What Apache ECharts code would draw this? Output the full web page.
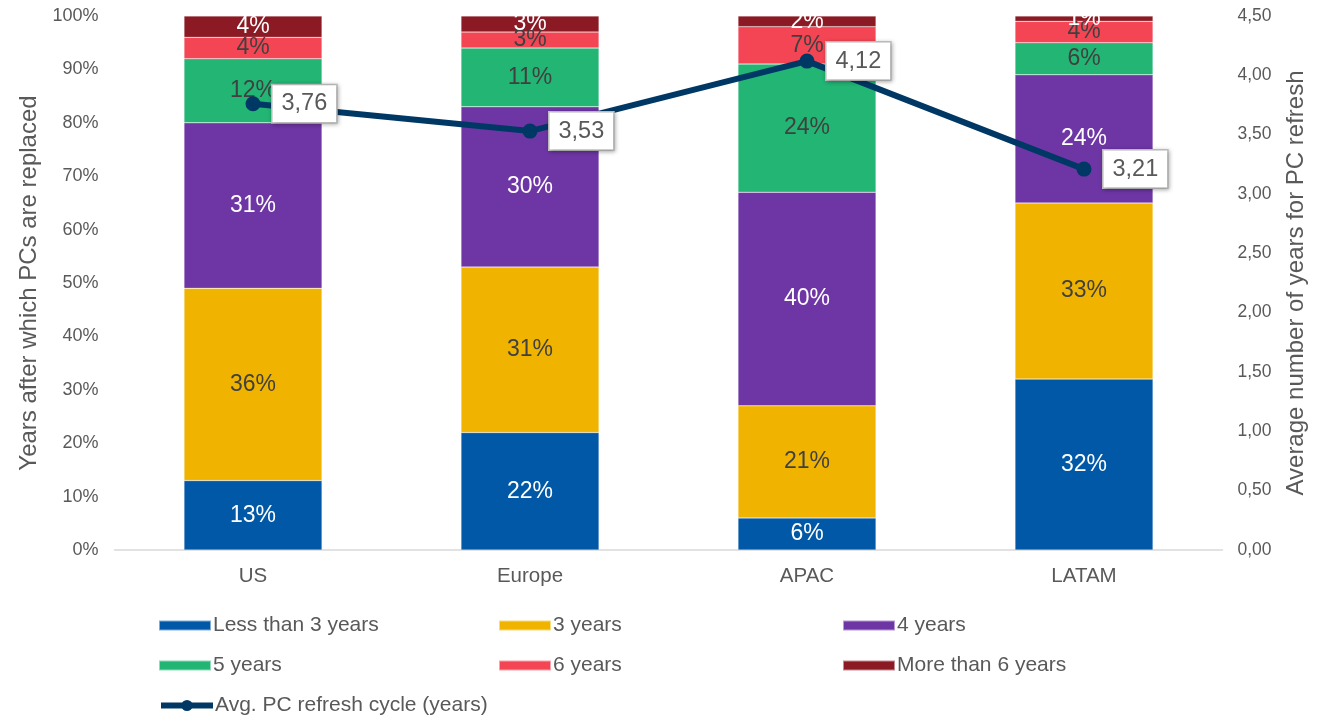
<!DOCTYPE html>
<html>
<head>
<meta charset="utf-8">
<script src="https://cdn.jsdelivr.net/npm/echarts@6/dist/echarts.min.js"></script>
<style>html,body{margin:0;padding:0;background:#fff}#c{width:1332px;height:716px}</style>
</head>
<body>
<div id="c"></div>
<script>
const categories = ['US', 'Europe', 'APAC', 'LATAM'];
const lessThan3 = [13, 22, 6, 32];
const years3 = [36, 31, 21, 33];
const years4 = [31, 30, 40, 24];
const years5 = [12, 11, 24, 6];
const years6 = [4, 3, 7, 4];
const moreThan6 = [4, 3, 2, 1];
const avgCycle = [3.76, 3.53, 4.12, 3.21];
const leftTicks = [0, 100, 10];
const rightTicks = [0, 4.5, 0.5];

const FONT = 'Liberation Sans, Arial, sans-serif';
const GRAY = '#595959';
const DARK = '#404040';

const stackDefs = [
  ['Less than 3 years', lessThan3, '#0058A7', '#ffffff'],
  ['3 years', years3, '#F0B400', DARK],
  ['4 years', years4, '#6E36A5', '#ffffff'],
  ['5 years', years5, '#22B574', DARK],
  ['6 years', years6, '#F44554', DARK],
  ['More than 6 years', moreThan6, '#8B1A24', '#ffffff']
];

const series = stackDefs.map(([name, data, color, lc]) => ({
  name, type: 'bar', stack: 'a', data, barWidth: 138,
  itemStyle: { color, borderColor: 'rgba(255,255,255,0.5)', borderWidth: 0.5 },
  label: { show: true, position: 'inside', formatter: '{c}%', color: lc,
    fontSize: 23, fontFamily: FONT },
  z: 2
}));

series.push({
  name: 'Avg. PC refresh cycle (years)', type: 'line', yAxisIndex: 1, data: avgCycle,
  symbol: 'circle', symbolSize: 15,
  lineStyle: { color: '#003865', width: 6 },
  itemStyle: { color: '#003865' },
  z: 5,
  label: { show: true, position: 'right', distance: 12,
    formatter: p => p.value.toFixed(2).replace('.', ','),
    backgroundColor: '#ffffff', borderColor: '#bfbfbf', borderWidth: 1.5,
    padding: [7, 9, 6, 9], color: GRAY, fontSize: 23.5, fontFamily: FONT,
    shadowColor: 'rgba(0,0,0,0.25)', shadowBlur: 4, shadowOffsetX: 1, shadowOffsetY: 1 }
});

const legendPos = [
  ['Less than 3 years', 158, 615], ['3 years', 498, 615], ['4 years', 842, 615],
  ['5 years', 158, 655], ['6 years', 498, 655], ['More than 6 years', 842, 655],
  ['Avg. PC refresh cycle (years)', 158, 695]
];
const legends = legendPos.map(([n, x, y]) => {
  const isLine = n.startsWith('Avg');
  return {
    data: [{ name: n, icon: isLine ? undefined : 'rect' }], left: x, top: y,
    itemWidth: 52, itemHeight: isLine ? 14 : 10,
    itemGap: 5, selectedMode: false, padding: 0,
    lineStyle: isLine ? { width: 6 } : undefined,
    textStyle: { color: GRAY, fontSize: 21, fontFamily: FONT, padding: [0, 0, 0, -3] }
  };
});

const chart = echarts.init(document.getElementById('c'));
chart.setOption({
  animation: false,
  textStyle: { fontFamily: FONT },
  grid: { left: 114.5, right: 109.5, top: 16, bottom: 166, containLabel: false },
  legend: legends,
  xAxis: {
    type: 'category', data: categories,
    axisLine: { lineStyle: { color: '#d9d9d9', width: 1.5 } },
    axisTick: { show: false },
    axisLabel: { color: GRAY, fontSize: 20.5, margin: 16, fontFamily: FONT }
  },
  yAxis: [{
    type: 'value', min: leftTicks[0], max: leftTicks[1], interval: leftTicks[2],
    name: 'Years after which PCs are replaced', nameLocation: 'middle', nameGap: 65,
    nameTextStyle: { color: GRAY, fontSize: 24, fontFamily: FONT },
    axisLabel: { formatter: '{value}%', color: GRAY, fontSize: 18, margin: 16, fontFamily: FONT },
    splitLine: { show: false }, axisLine: { show: false }, axisTick: { show: false }
  }, {
    type: 'value', min: rightTicks[0], max: rightTicks[1], interval: rightTicks[2],
    name: 'Average number of years for PC refresh', nameLocation: 'middle', nameGap: 62,
    nameTextStyle: { color: GRAY, fontSize: 24, fontFamily: FONT },
    axisLabel: { formatter: v => v.toFixed(2).replace('.', ','), color: GRAY, fontSize: 17.5,
      margin: 15, fontFamily: FONT },
    splitLine: { show: false }, axisLine: { show: false }, axisTick: { show: false }
  }],
  series
});
</script>
</body>
</html>
